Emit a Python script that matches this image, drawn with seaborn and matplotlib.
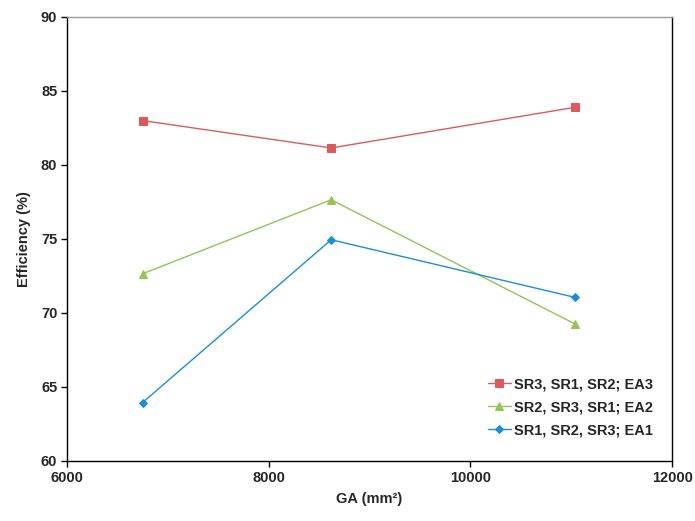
import seaborn as sns
import matplotlib.pyplot as plt
import pandas as pd

ga = [6750, 8620, 11040]
series_names = ["SR3, SR1, SR2; EA3", "SR2, SR3, SR1; EA2", "SR1, SR2, SR3; EA1"]
eff_ea3 = [83.0, 81.15, 83.9]
eff_ea2 = [72.65, 77.65, 69.25]
eff_ea1 = [63.95, 74.95, 71.05]

colors = {series_names[0]: "#dc5a5e", series_names[1]: "#92c457", series_names[2]: "#1a8fd3"}
markers = {series_names[0]: "s", series_names[1]: "^", series_names[2]: "D"}

rows = []
for name, vals in zip(series_names, [eff_ea3, eff_ea2, eff_ea1]):
    for x, y in zip(ga, vals):
        rows.append({"GA": x, "Efficiency": y, "Series": name})
df = pd.DataFrame(rows)

sns.set_style("white")
plt.rcParams['font.family'] = ['Liberation Sans', 'DejaVu Sans']

fig = plt.figure(figsize=(6.95, 5.21), dpi=100)
ax = fig.add_axes([0.0964, 0.1152, 0.8706, 0.8522])

for name in series_names:
    sub = df[df["Series"] == name]
    sns.lineplot(data=sub, x="GA", y="Efficiency", ax=ax, color=colors[name],
                 marker=markers[name], markersize=6 if markers[name] != "D" else 4.5,
                 markeredgecolor=colors[name], linewidth=1.0, label=name)

ax.set_xlim(6000, 12000)
ax.set_ylim(60, 90)
ax.set_xticks([6000, 8000, 10000, 12000])
ax.set_yticks([60, 65, 70, 75, 80, 85, 90])
ax.set_xlabel("GA (mm²)", fontsize=10.5, fontweight="bold", labelpad=5)
ax.set_ylabel("Efficiency (%)", fontsize=10.5, fontweight="bold", labelpad=7)
for lab in ax.get_xticklabels() + ax.get_yticklabels():
    lab.set_fontweight("bold")
    lab.set_fontsize(10.5)

ax.tick_params(axis="both", direction="out", length=4, width=1, color="black",
               bottom=True, left=True, pad=3)
for side in ["left", "bottom", "right"]:
    ax.spines[side].set_color("black")
    ax.spines[side].set_linewidth(1.0)
ax.spines["top"].set_color("#999999")
ax.spines["top"].set_linewidth(1.0)

leg = ax.legend(loc="lower right", frameon=False, handlelength=1.6, handletextpad=0.2,
                labelspacing=0.62, bbox_to_anchor=(0.99, 0.024),
                prop={"weight": "bold", "size": 10.5})

fig.savefig("out.png", dpi=100)
